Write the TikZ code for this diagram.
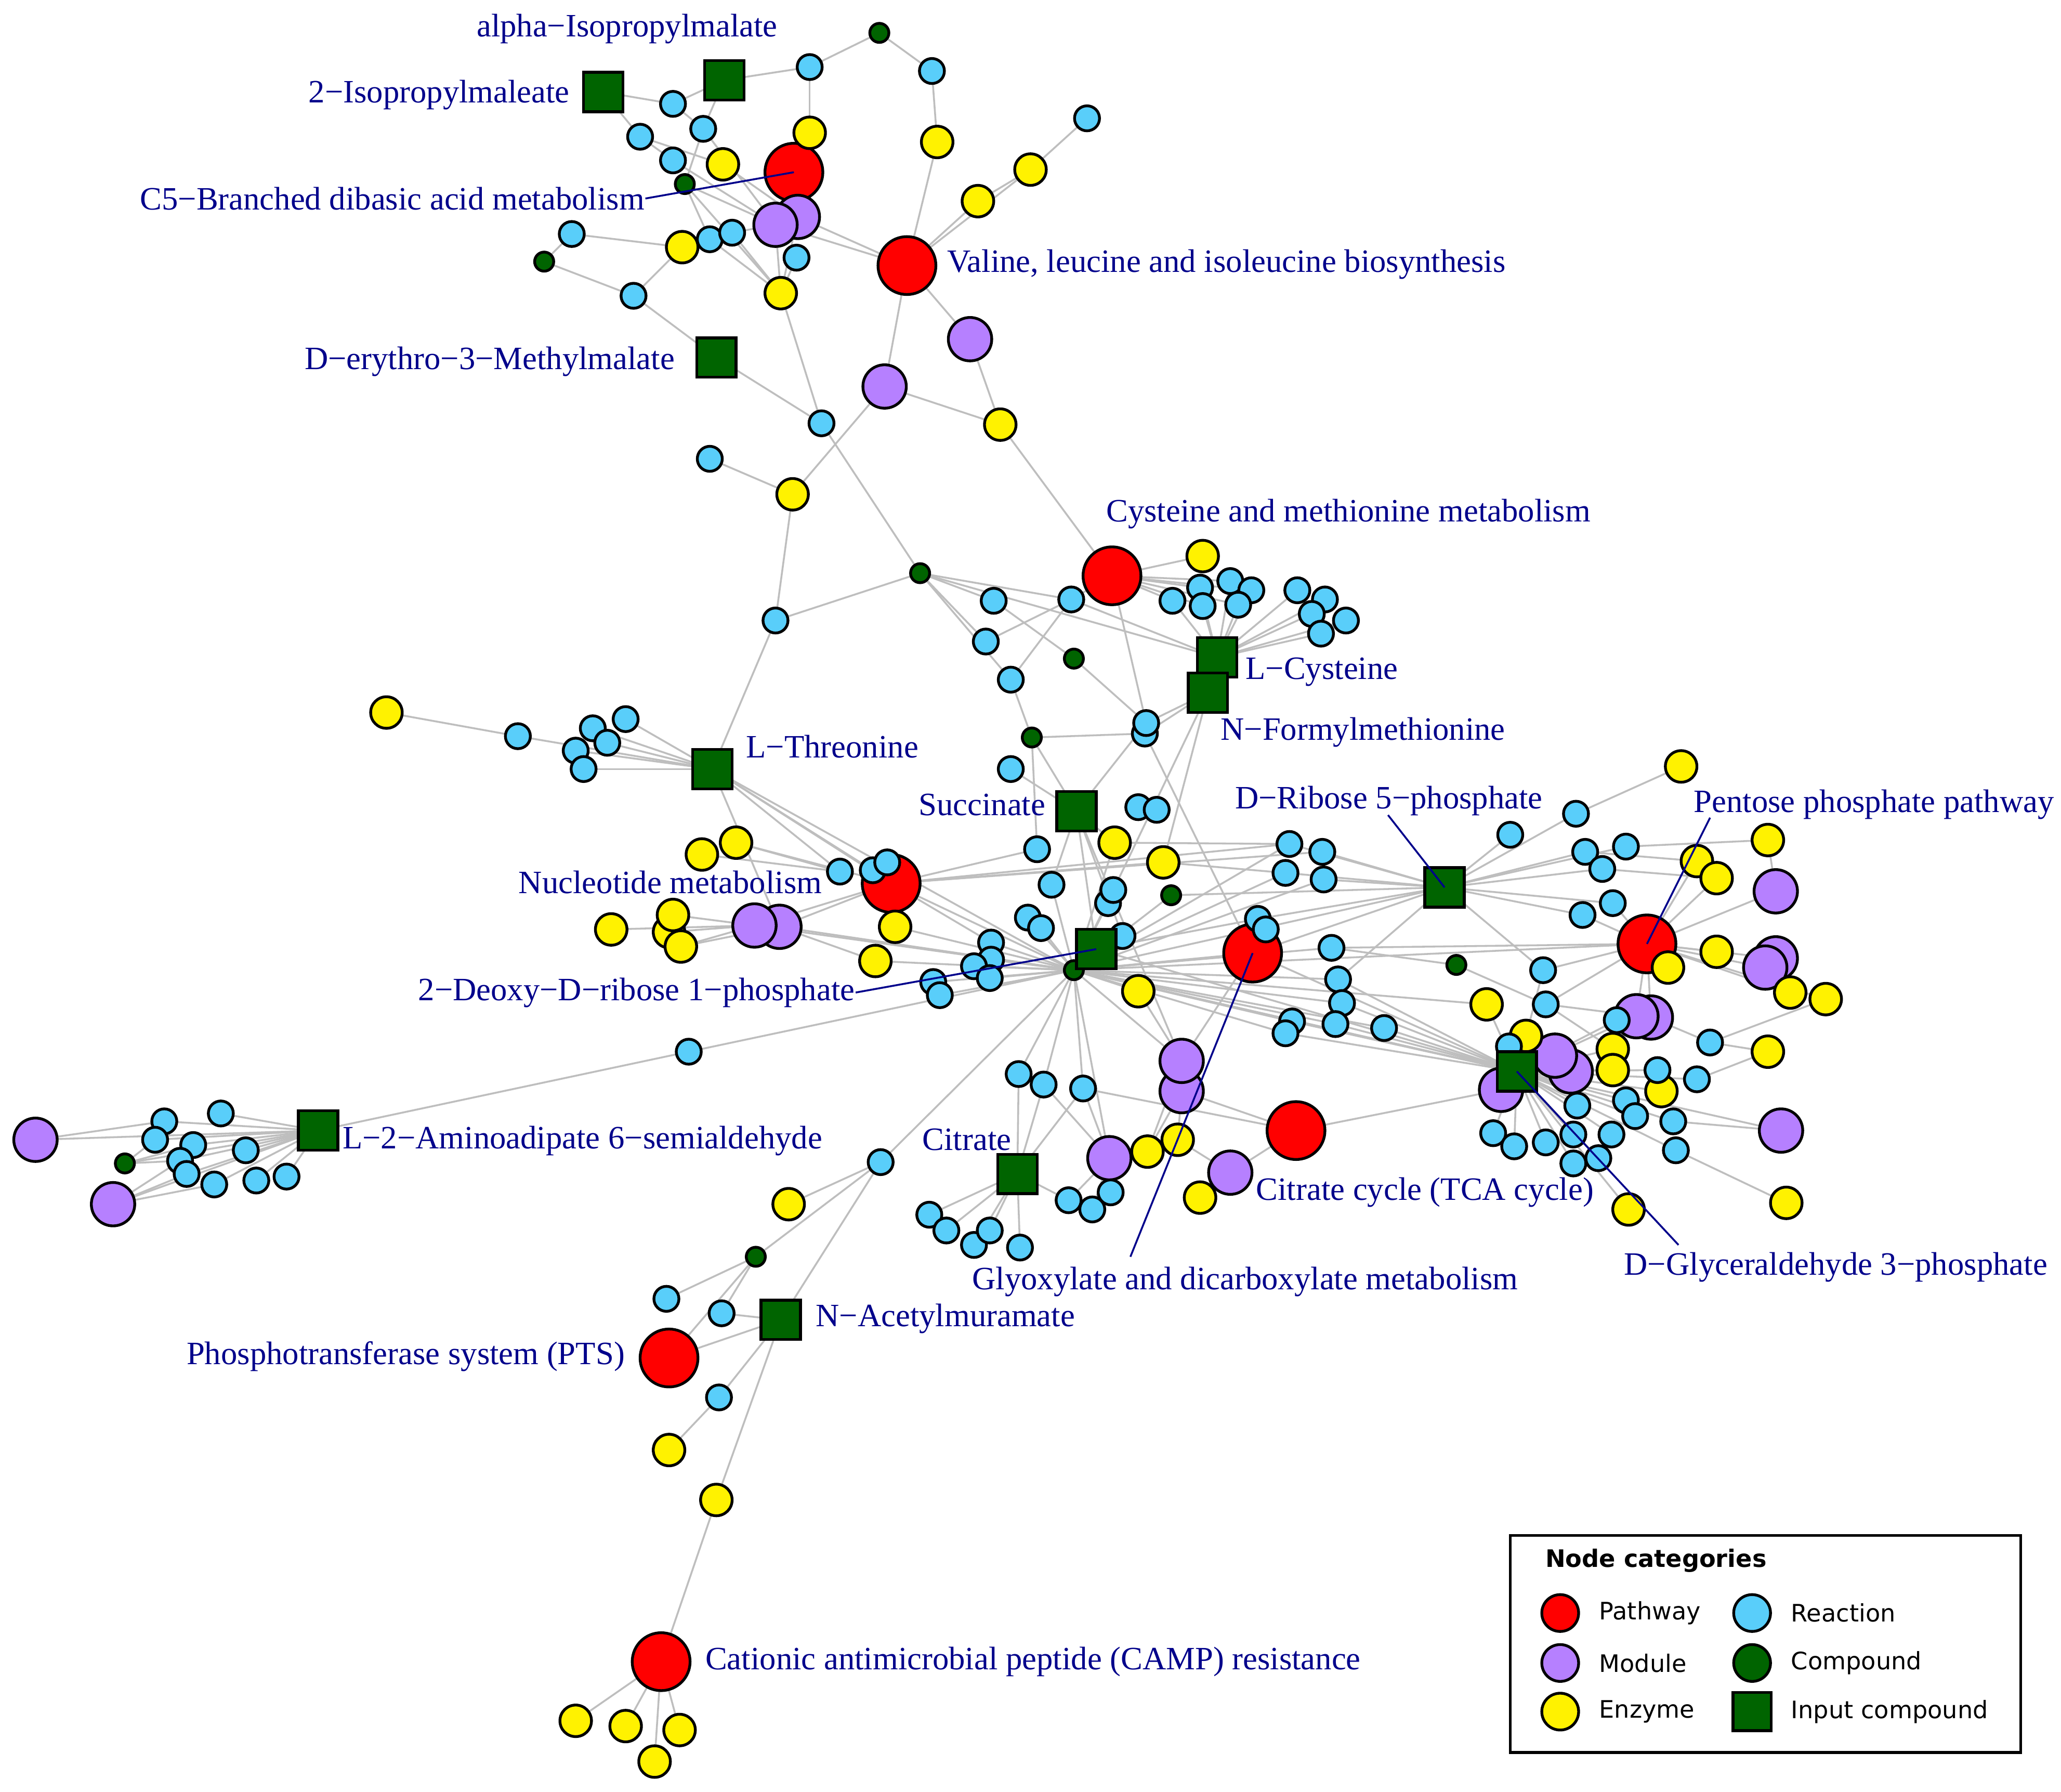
\documentclass[tikz,border=0pt]{standalone}
\usepackage{fontspec}
\setmainfont{Liberation Serif}
\newfontfamily\legfont{DejaVu Sans}
\usetikzlibrary{backgrounds}
\definecolor{modc}{RGB}{182,128,255}
\definecolor{reac}{RGB}{89,206,250}
\definecolor{cgreen}{RGB}{0,100,0}
\definecolor{labblue}{RGB}{0,0,139}
\definecolor{edgegray}{RGB}{190,190,190}
\newcommand\labfont{\fontsize{7.05}{8.4}\selectfont}
\newcommand\legtext{\legfont\fontsize{5.2}{6.2}\selectfont}
\newcommand\legbold{\legfont\bfseries\fontsize{5.2}{6.2}\selectfont}
\tikzset{
 nd/.style={circle, draw=black, line width=0.6pt, inner sep=0pt},
 pw/.style={nd, fill=red, minimum size=0.44cm},
 md/.style={nd, fill=modc, minimum size=0.33cm},
 ez/.style={nd, fill=yellow, minimum size=0.24cm},
 re/.style={nd, fill=reac, minimum size=0.19cm},
 cp/.style={nd, fill=cgreen, minimum size=0.145cm},
 ic/.style={rectangle, draw=black, line width=0.6pt, fill=cgreen, minimum size=0.30cm, inner sep=0pt},
 edge/.style={draw=edgegray, line width=0.4pt},
 lab/.style={text=labblue, font=\labfont, inner sep=0pt},
 leader/.style={draw=labblue, line width=0.4pt},
}
\begin{document}
\begin{tikzpicture}[x=0.01cm, y=-0.01cm]
\useasboundingbox (0,0) rectangle (1568,1363);
% ---------- pathways
\node[pw] (P1) at (604,131) {};
\node[pw] (P2) at (690,202) {};
\node[pw] (P3) at (846,438) {};
\node[pw] (P4) at (678,672) {};
\node[pw] (P5) at (953,725) {};
\node[pw] (P6) at (1253,718) {};
\node[pw] (P7) at (986,860) {};
\node[pw] (P8) at (509,1033) {};
\node[pw] (P9) at (503,1264) {};
% ---------- modules
\node[md] (M1) at (607,165) {};
\node[md] (M2) at (590,171) {};
\node[md] (M3) at (738,258) {};
\node[md] (M4) at (673,294) {};
\node[md] (M6) at (593,705) {};
\node[md] (M5) at (574,704) {};
\node[md] (M8) at (899,830) {};
\node[md] (M7) at (899,807) {};
\node[md] (M9) at (844,881) {};
\node[md] (M10) at (936,892) {};
\node[md] (M11) at (1351,678) {};
\node[md] (M12) at (1351,729) {};
\node[md] (M13) at (1343,736) {};
\node[md] (M14) at (1256,774) {};
\node[md] (M15) at (1245,773) {};
\node[md] (M17) at (1195,815) {};
\node[md] (M16) at (1183,803) {};
\node[md] (M18) at (1142,829) {};
\node[md] (M19) at (1355,860) {};
\node[md] (M20) at (27,867) {};
\node[md] (M21) at (86,916) {};
% ---------- enzymes
\node[ez] (E1) at (616,101) {};
\node[ez] (E2) at (713,108) {};
\node[ez] (E3) at (550,125) {};
\node[ez] (E4) at (784,129) {};
\node[ez] (E5) at (744,153) {};
\node[ez] (E6) at (519,188) {};
\node[ez] (E7) at (594,223) {};
\node[ez] (E8) at (761,323) {};
\node[ez] (E9) at (603,376) {};
\node[ez] (E10) at (915,423) {};
\node[ez] (E11) at (294,542) {};
\node[ez] (E12) at (534,650) {};
\node[ez] (E13) at (560,641) {};
\node[ez] (E14) at (848,641) {};
\node[ez] (E15) at (885,656) {};
\node[ez] (E16) at (465,707) {};
\node[ez] (E18) at (509,709) {};
\node[ez] (E17) at (512,696) {};
\node[ez] (E19) at (518,720) {};
\node[ez] (E20) at (681,705) {};
\node[ez] (E21) at (666,731) {};
\node[ez] (E22) at (866,754) {};
\node[ez] (E23) at (873,876) {};
\node[ez] (E24) at (896,867) {};
\node[ez] (E25) at (913,911) {};
\node[ez] (E26) at (600,916) {};
\node[ez] (E27) at (509,1103) {};
\node[ez] (E28) at (545,1141) {};
\node[ez] (E29) at (438,1309) {};
\node[ez] (E30) at (476,1313) {};
\node[ez] (E31) at (517,1316) {};
\node[ez] (E32) at (498,1340) {};
\node[ez] (E33) at (1279,583) {};
\node[ez] (E34) at (1345,639) {};
\node[ez] (E35) at (1291,655) {};
\node[ez] (E36) at (1306,668) {};
\node[ez] (E37) at (1306,724) {};
\node[ez] (E38) at (1269,736) {};
\node[ez] (E39) at (1362,755) {};
\node[ez] (E40) at (1389,760) {};
\node[ez] (E41) at (1131,764) {};
\node[ez] (E42) at (1161,788) {};
\node[ez] (E43) at (1227,798) {};
\node[ez] (E44) at (1227,814) {};
\node[ez] (E45) at (1345,800) {};
\node[ez] (E46) at (1264,830) {};
\node[ez] (E47) at (1239,920) {};
\node[ez] (E48) at (1359,915) {};
% ---------- reactions
\node[re] (R1) at (616,51) {};
\node[re] (R2) at (709,54) {};
\node[re] (R3) at (512,79) {};
\node[re] (R4) at (535,98) {};
\node[re] (R5) at (487,104) {};
\node[re] (R6) at (827,90) {};
\node[re] (R7) at (512,122) {};
\node[re] (R8) at (435,178) {};
\node[re] (R9) at (540,182) {};
\node[re] (R10) at (557,177) {};
\node[re] (R11) at (606,196) {};
\node[re] (R12) at (482,225) {};
\node[re] (R13) at (625,322) {};
\node[re] (R14) at (540,349) {};
\node[re] (R15) at (590,472) {};
\node[re] (R16) at (756,457) {};
\node[re] (R17) at (815,456) {};
\node[re] (R18) at (892,457) {};
\node[re] (R19) at (913,447) {};
\node[re] (R20) at (936,442) {};
\node[re] (R21) at (952,449) {};
\node[re] (R22) at (915,461) {};
\node[re] (R23) at (942,460) {};
\node[re] (R24) at (987,449) {};
\node[re] (R25) at (1008,456) {};
\node[re] (R26) at (998,467) {};
\node[re] (R27) at (1024,472) {};
\node[re] (R28) at (1005,482) {};
\node[re] (R29) at (750,488) {};
\node[re] (R30) at (769,517) {};
\node[re] (R32) at (871,558) {};
\node[re] (R31) at (872,550) {};
\node[re] (R33) at (769,585) {};
\node[re] (R34) at (866,614) {};
\node[re] (R35) at (880,616) {};
\node[re] (R36) at (789,646) {};
\node[re] (R37) at (394,560) {};
\node[re] (R38) at (451,554) {};
\node[re] (R39) at (476,547) {};
\node[re] (R40) at (462,565) {};
\node[re] (R41) at (438,571) {};
\node[re] (R42) at (444,585) {};
\node[re] (R43) at (639,663) {};
\node[re] (R44) at (664,662) {};
\node[re] (R45) at (675,656) {};
\node[re] (R46) at (800,673) {};
\node[re] (R48) at (843,687) {};
\node[re] (R47) at (847,677) {};
\node[re] (R49) at (782,698) {};
\node[re] (R50) at (792,706) {};
\node[re] (R51) at (854,712) {};
\node[re] (R52) at (754,717) {};
\node[re] (R53) at (754,730) {};
\node[re] (R54) at (741,735) {};
\node[re] (R55) at (753,744) {};
\node[re] (R56) at (710,747) {};
\node[re] (R57) at (715,757) {};
\node[re] (R58) at (957,699) {};
\node[re] (R59) at (963,707) {};
\node[re] (R60) at (981,642) {};
\node[re] (R61) at (1006,648) {};
\node[re] (R62) at (978,664) {};
\node[re] (R63) at (1007,669) {};
\node[re] (R64) at (1149,635) {};
\node[re] (R65) at (1199,619) {};
\node[re] (R66) at (1206,648) {};
\node[re] (R67) at (1237,644) {};
\node[re] (R68) at (1219,661) {};
\node[re] (R69) at (1227,687) {};
\node[re] (R70) at (1204,696) {};
\node[re] (R71) at (1013,721) {};
\node[re] (R72) at (1174,738) {};
\node[re] (R73) at (1018,745) {};
\node[re] (R74) at (1021,763) {};
\node[re] (R75) at (1016,779) {};
\node[re] (R76) at (983,777) {};
\node[re] (R77) at (978,786) {};
\node[re] (R78) at (1053,782) {};
\node[re] (R79) at (1176,764) {};
\node[re] (R80) at (1148,796) {};
\node[re] (R81) at (1230,776) {};
\node[re] (R82) at (1301,793) {};
\node[re] (R83) at (1261,814) {};
\node[re] (R84) at (1291,821) {};
\node[re] (R85) at (1200,841) {};
\node[re] (R86) at (1237,837) {};
\node[re] (R87) at (1244,849) {};
\node[re] (R88) at (1273,853) {};
\node[re] (R89) at (1136,862) {};
\node[re] (R90) at (1152,872) {};
\node[re] (R91) at (1176,869) {};
\node[re] (R92) at (1197,863) {};
\node[re] (R93) at (1226,863) {};
\node[re] (R94) at (1197,885) {};
\node[re] (R95) at (1216,881) {};
\node[re] (R96) at (1275,875) {};
\node[re] (R97) at (524,800) {};
\node[re] (R98) at (775,817) {};
\node[re] (R99) at (794,825) {};
\node[re] (R100) at (824,828) {};
\node[re] (R101) at (707,924) {};
\node[re] (R102) at (720,936) {};
\node[re] (R103) at (741,947) {};
\node[re] (R104) at (753,936) {};
\node[re] (R105) at (776,949) {};
\node[re] (R106) at (813,913) {};
\node[re] (R107) at (831,920) {};
\node[re] (R108) at (845,907) {};
\node[re] (R109) at (670,884) {};
\node[re] (R110) at (507,988) {};
\node[re] (R111) at (549,999) {};
\node[re] (R112) at (547,1063) {};
\node[re] (R113) at (125,853) {};
\node[re] (R114) at (118,867) {};
\node[re] (R115) at (168,847) {};
\node[re] (R116) at (147,871) {};
\node[re] (R117) at (187,875) {};
\node[re] (R118) at (137,883) {};
\node[re] (R119) at (142,893) {};
\node[re] (R120) at (163,901) {};
\node[re] (R121) at (195,898) {};
\node[re] (R122) at (218,895) {};
% ---------- compounds
\node[cp] (C1) at (669,25) {};
\node[cp] (C2) at (521,140) {};
\node[cp] (C3) at (414,199) {};
\node[cp] (C4) at (700,436) {};
\node[cp] (C5) at (817,501) {};
\node[cp] (C6) at (785,561) {};
\node[cp] (C7) at (891,681) {};
\node[cp] (C8) at (817,738) {};
\node[cp] (C9) at (1108,734) {};
\node[cp] (C10) at (95,885) {};
\node[cp] (C11) at (575,956) {};
% ---------- input compounds
\node[ic] (S1) at (551,61) {};
\node[ic] (S2) at (459,70) {};
\node[ic] (S3) at (545,272) {};
\node[ic] (S4) at (926,500) {};
\node[ic] (S5) at (919,527) {};
\node[ic] (S6) at (542,585) {};
\node[ic] (S7) at (819,617) {};
\node[ic] (S8) at (1099,675) {};
\node[ic] (S9) at (834,722) {};
\node[ic] (S10) at (1154,815) {};
\node[ic] (S11) at (242,860) {};
\node[ic] (S12) at (774,893) {};
\node[ic] (S13) at (594,1004) {};
% ---------- edges
\begin{pgfonlayer}{background}
\fill[white] (0,0) rectangle (1568,1363);
\foreach \a/\b in {C1/R1, C1/R2, R1/S1, R1/E1, R2/E2, E2/P2,
 S2/R3, R3/S1, S2/R5, S1/R4, R3/R4, R5/E3, R5/R7, R7/M2, R4/M2, R4/C2, E3/M1,
 C2/R9, C2/E7, C2/M2, R8/C3, R8/E6, C3/R12, R12/E6, R12/S3,
 R9/E7, R10/E7, R10/M2, R11/E7, M1/E7, M2/E7, M1/P2, M2/P2,
 E7/R13, S3/R13, P2/M4, P2/M3, P2/E5, P2/E4, E5/E4, E4/R6,
 M3/E8, M4/E8, M4/E9, E8/P3, R13/C4, R14/E9, E9/R15, R15/C4, R15/S6,
 C4/R16, C4/R17, C4/R29, C4/R30, C4/S4, R16/C5, R17/R29, R17/R30, R30/C6, R17/S4, R17/P3,
 P3/E10, P3/R18, P3/R19, P3/R20, P3/R21, P3/R22, P3/R23, P3/R31,
 S4/R18, S4/R19, S4/R20, S4/R21, S4/R22, S4/R23, S4/R24, S4/R25, S4/R26, S4/R27, S4/R28,
 C5/R31, S5/R31, S5/R32, S5/R47, S5/E15, C6/R32, C6/S7, C6/R36, R31/S7, R33/S7, R32/P5,
 S6/R37, S6/R38, S6/R39, S6/R40, S6/R41, S6/R42, E11/R37, S6/P4, S6/R43, S6/R44, S6/C8, S6/M6,
 E12/R43, E13/R43, E13/P4,
 M5/E16, M5/E17, M5/E18, M5/E19, M6/E19, M5/P4, M6/P4, M6/C8, M5/C8, E20/C8, E21/C8, M6/E21,
 P4/R36, P4/E15, P4/R60, P4/C8, P4/R52, P4/R61,
 R52/C8, R53/C8, R54/C8, R55/C8, R56/C8, R57/C8, R97/C8,
 R49/C8, R50/C8, R46/C8, R47/C8, R48/C8, R51/S9, E14/C8,
 C7/C8, C7/S8, S7/S9, S7/R51, S7/M7, S7/E14, S7/R46, E14/R60, E15/R62,
 C8/R60, C8/R62, C8/R63, C8/S8, C8/P5, C8/P6, C8/S10, C8/R71, C8/R73, C8/R74, C8/R75, C8/R76, C8/R77, C8/R78,
 C8/E22, C8/M7, C8/R98, C8/R99, C8/R100, C8/R109, C8/M9, C8/E41, S9/S10, S9/R58,
 P5/R58, P5/M7, P5/S8, P5/S10,
 S8/R60, S8/R61, S8/R62, S8/R63, S8/R64, S8/R65, S8/R66, S8/R67, S8/R68, S8/R69, S8/R70, S8/R72, S8/R73, S8/R58,
 R65/E33, R67/E34, R66/E35, R68/E36,
 R70/P6, R69/P6, P6/E38, P6/E37, P6/M11, P6/M12, P6/M13, P6/E35, P6/E36, E34/M11, R71/P6, P6/R72, P6/M14, P6/M15, P6/E39, P6/E40, R79/P6,
 M12/E39, E40/R82, R82/M14, R82/E45, R84/E45, M19/R88, M19/S10, E48/R96, E47/S10,
 S10/R89, S10/R90, S10/R91, S10/R92, S10/R93, S10/R94, S10/R95, S10/R85, S10/R86, S10/R87, S10/R88,
 S10/M16, S10/M17, S10/M18, S10/R80, S10/E42, S10/E43, S10/E44, S10/R83, S10/R84, S10/R81, S10/M15, S10/R72,
 S10/E41, S10/R78, S10/R75, S10/R74, S10/R73, S10/R76, S10/R77, S10/R96, S10/E46,
 C9/R71, C9/R79, R79/M14, R79/E43,
 M18/P7, P7/M8, P7/R100, P7/M10, M10/E25, M10/E24,
 E22/M7, M7/E23, M8/E23, M8/E24, M9/E23, M9/R108, M9/R107, M9/R99, M9/R100,
 S12/R98, S12/R99, S12/R100, S12/R101, S12/R102, S12/R103, S12/R104, S12/R105, S12/R106, R106/M9,
 R109/E26, R109/C11, R109/S13, C11/R110, C11/R111, C11/P8, R111/S13, P8/S13, S13/R112, R112/E27, S13/E28, E28/P9,
 P9/E29, P9/E30, P9/E31, P9/E32,
 S11/R97, M20/R113, M20/S11, C10/R114, C10/R118, C10/R116, C10/S11, M21/R118, M21/R119, M21/R120, M21/S11,
 S11/R113, S11/R114, S11/R115, S11/R116, S11/R117, S11/R118, S11/R119, S11/R120, S11/R121, S11/R122}
 \draw[edge] (\a.center) -- (\b.center);
\end{pgfonlayer}
% ---------- labels
\node[lab,anchor=west] (T1) at (362,22) {alpha−Isopropylmalate};
\node[lab,anchor=east] (T2) at (434,72) {2−Isopropylmaleate};
\node[lab,anchor=east] (T3) at (491,151) {C5−Branched dibasic acid metabolism};
\node[lab,anchor=west] (T4) at (720,201) {Valine, leucine and isoleucine biosynthesis};
\node[lab,anchor=east] (T5) at (514,275) {D−erythro−3−Methylmalate};
\node[lab,anchor=west] (T6) at (841,391) {Cysteine and methionine metabolism};
\node[lab,anchor=west] (T7) at (947,511) {L−Cysteine};
\node[lab,anchor=west] (T8) at (928,557) {N−Formylmethionine};
\node[lab,anchor=west] (T9) at (567,568) {L−Threonine};
\node[lab,anchor=east] (T10) at (796,612) {Succinate};
\node[lab,anchor=west] (T11) at (939,609) {D−Ribose 5−phosphate};
\node[lab,anchor=west] (T12) at (1288,612) {Pentose phosphate pathway};
\node[lab,anchor=east] (T13) at (626,671) {Nucleotide metabolism};
\node[lab,anchor=east] (T14) at (651,755) {2−Deoxy−D−ribose 1−phosphate};
\node[lab,anchor=west] (T15) at (260,868) {L−2−Aminoadipate 6−semialdehyde};
\node[lab,anchor=east] (T16) at (770,867) {Citrate};
\node[lab,anchor=west] (T17) at (955,907) {Citrate cycle (TCA cycle)};
\node[lab,anchor=west] (T18) at (739,975) {Glyoxylate and dicarboxylate metabolism};
\node[lab,anchor=west] (T19) at (1235,964) {D−Glyceraldehyde 3−phosphate};
\node[lab,anchor=west] (T20) at (620,1003) {N−Acetylmuramate};
\node[lab,anchor=east] (T21) at (476,1032) {Phosphotransferase system (PTS)};
\node[lab,anchor=west] (T22) at (536,1264) {Cationic antimicrobial peptide (CAMP) resistance};
% ---------- leader lines
\coordinate (K1) at (1056,620);
\coordinate (K2) at (1301,622);
\coordinate (K3) at (860,956);
\coordinate (K4) at (1277,947);
\draw[leader] (T3.east) -- (P1.center);
\draw[leader] (T14.east) -- (S9.center);
\draw[leader] (K1) -- (S8.center);
\draw[leader] (K2) -- (P6.center);
\draw[leader] (K3) -- (P5.center);
\draw[leader] (K4) -- (S10.center);
% ---------- legend
\node[draw=black, line width=0.6pt, minimum width=3.88cm, minimum height=1.65cm, anchor=north west, inner sep=0pt] (LG) at (1148,1167) {};
\node[anchor=west, font=\legbold, inner sep=0pt] (LGT) at (1175,1187) {Node categories};
\node[pw, minimum size=0.28cm] (LG1) at (1187,1227) {};
\node[md, minimum size=0.28cm] (LG2) at (1187,1265) {};
\node[ez, minimum size=0.28cm] (LG3) at (1187,1302) {};
\node[re, minimum size=0.28cm] (LG4) at (1333,1227) {};
\node[cp, minimum size=0.28cm] (LG5) at (1333,1265) {};
\node[ic, minimum size=0.29cm] (LG6) at (1333,1302) {};
\node[anchor=west, font=\legtext, inner sep=0pt] (LGa) at (1216,1227) {Pathway};
\node[anchor=west, font=\legtext, inner sep=0pt] (LGb) at (1216,1265) {Module};
\node[anchor=west, font=\legtext, inner sep=0pt] (LGc) at (1216,1302) {Enzyme};
\node[anchor=west, font=\legtext, inner sep=0pt] (LGd) at (1362,1227) {Reaction};
\node[anchor=west, font=\legtext, inner sep=0pt] (LGe) at (1362,1265) {Compound};
\node[anchor=west, font=\legtext, inner sep=0pt] (LGf) at (1362,1302) {Input compound};
\end{tikzpicture}
\end{document}
